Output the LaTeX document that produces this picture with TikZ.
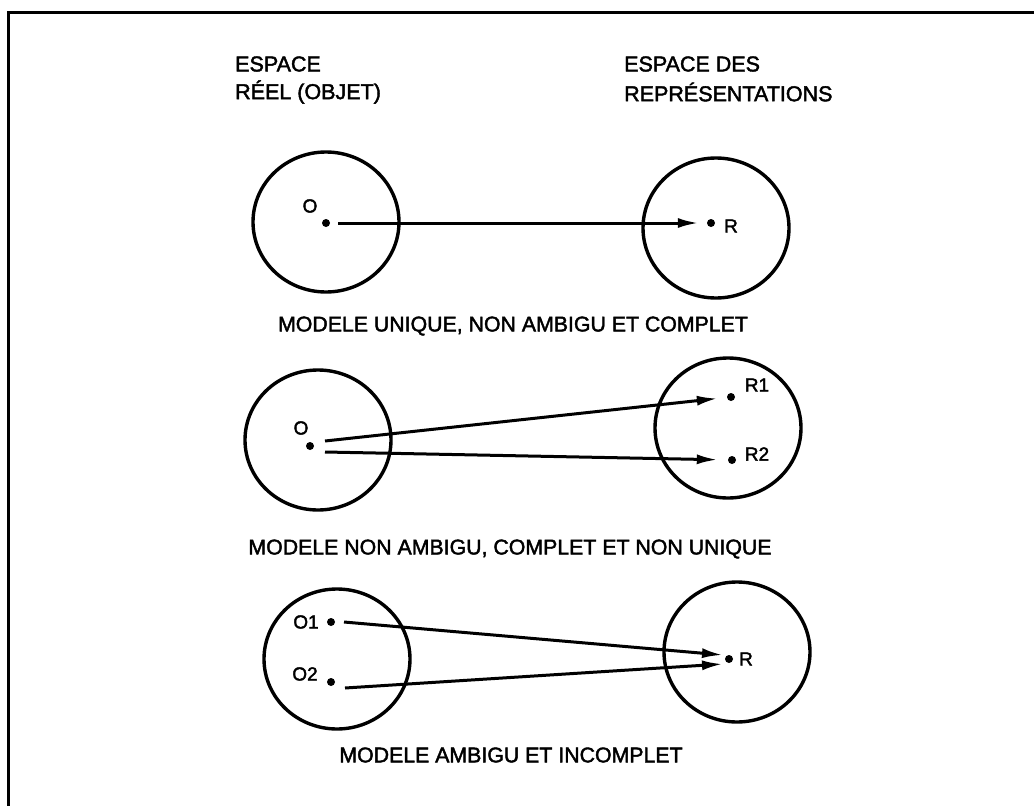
\documentclass[tikz,border=0pt]{standalone}
\usepackage{fontspec}
\setmainfont{Liberation Sans}[FakeBold=2]
\usetikzlibrary{arrows.meta,shapes.geometric}
\begin{document}
\begin{tikzpicture}[x=1pt,y=-1pt,
  ring/.style={draw, line width=3.4pt, ellipse, minimum width=146pt, minimum height=140pt, inner sep=0},
  dotpt/.style={circle, fill, inner sep=0, minimum size=8pt},
  lbl/.style={inner sep=0, font=\fontsize{19}{22}\selectfont},
  txt/.style={inner sep=0, font=\fontsize{21.5}{24}\selectfont, anchor=west},
  captext/.style={inner sep=0, font=\fontsize{21.3}{24}\selectfont},
  link/.style={line width=3pt, -{Latex[length=21pt,width=10pt]}},
  framestyle/.style={line width=3pt}]
\useasboundingbox (0,0) rectangle (1034,806);
\draw[framestyle] (1050,12) -- (8,12) -- (8,830);
% headers
\node[txt] (h1) at (235,64) {ESPACE};
\node[txt] (h2) at (235,92) {RÉEL (OBJET)};
\node[txt] (h3) at (624,64) {ESPACE DES};
\node[txt] (h4) at (624,92) {REPRÉSENTATIONS};
% row 1
\node[ring] (c1l) at (326,222) {};
\node[ring] (c1r) at (716,228) {};
\node[dotpt] (o1) at (326,223) {};
\node[lbl] (lo1) at (310,206) {O};
\node[dotpt] (r1) at (711,223) {};
\node[lbl] (lr1) at (731,226) {R};
\coordinate (s1) at (338,223);
\draw[link, shorten >=8pt] (s1) -- (r1);
\node[captext] (cap1) at (513,326) {MODELE UNIQUE, NON AMBIGU ET COMPLET};
% row 2
\node[ring] (c2l) at (318,440) {};
\node[ring] (c2r) at (728,428) {};
\node[dotpt] (o2) at (310,446) {};
\node[lbl] (lo2) at (301,428) {O};
\node[dotpt] (r21) at (731,397) {};
\node[dotpt] (r22) at (732,460) {};
\node[lbl] (lr21) at (757,385) {R1};
\node[lbl] (lr22) at (757,454) {R2};
\coordinate (s21) at (325,441);
\coordinate (s22) at (325,452);
\draw[link, shorten >=9pt] (s21) -- (r21);
\draw[link, shorten >=10pt] (s22) -- (r22);
\node[captext] (cap2) at (510,549) {MODELE NON AMBIGU, COMPLET ET NON UNIQUE};
% row 3
\node[ring] (c3l) at (337,659) {};
\node[ring] (c3r) at (737,652) {};
\node[dotpt] (o31) at (331,622) {};
\node[dotpt] (o32) at (331,682) {};
\node[dotpt] (r3) at (729,659) {};
\node[lbl] (lo31) at (306,622) {O1};
\node[lbl] (lo32) at (305,674) {O2};
\node[lbl] (lr3) at (746,659) {R};
\coordinate (s31) at (344,622);
\coordinate (s32) at (345,688);
\coordinate (t31) at (723,655);
\coordinate (t32) at (723,664);
\draw[link] (s31) -- (t31);
\draw[link] (s32) -- (t32);
\node[captext] (cap3) at (511,755) {MODELE AMBIGU ET INCOMPLET};
\end{tikzpicture}
\end{document}
